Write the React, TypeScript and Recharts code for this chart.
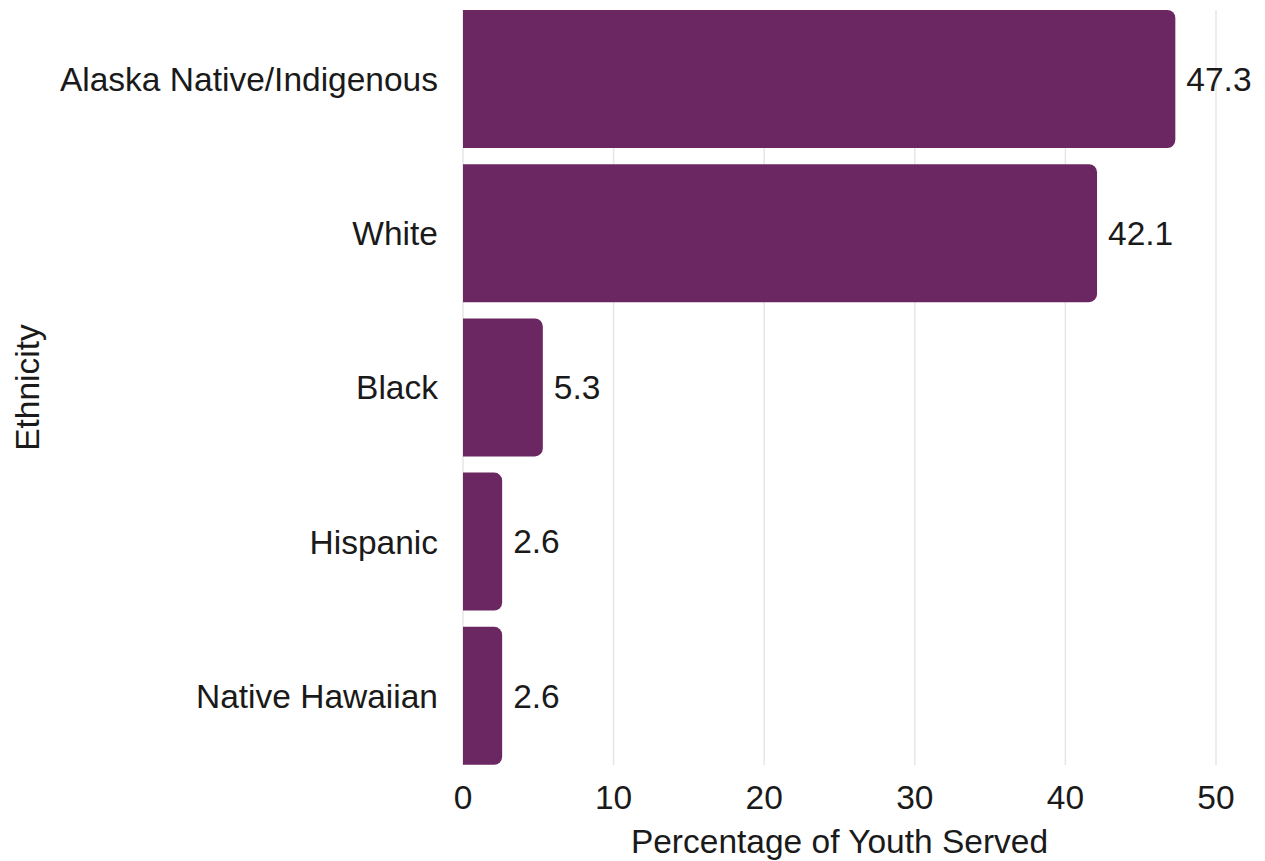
import { BarChart, Bar, XAxis, YAxis, CartesianGrid, LabelList } from "recharts";

const categories = ["Alaska Native/Indigenous", "White", "Black", "Hispanic", "Native Hawaiian"];
const percentages = [47.3, 42.1, 5.3, 2.6, 2.6];
const xTicks = [0, 10, 20, 30, 40, 50];

const data = categories.map((name, i) => ({ name, value: percentages[i] }));

const FONT = "'Liberation Sans', Arial, sans-serif";
const TEXT = "#1a1a1a";
const BAR = "#6b2761";
const SIZE = 33.5;

const App = () => {
  return (
    <div style={{ position: "absolute", left: 0, top: 0, width: 1265, height: 861, background: "#fff" }}>
      <BarChart
        width={1265}
        height={861}
        data={data}
        layout="vertical"
        margin={{ top: 10, right: 49, bottom: 0, left: 0 }}
        style={{ fontFamily: FONT }}
      >
        <CartesianGrid horizontal={false} stroke="#e6e6e6" strokeWidth={1.5} />
        <XAxis
          type="number"
          domain={[0, 50]}
          ticks={xTicks}
          axisLine={false}
          tickLine={false}
          tickSize={0}
          tickMargin={20}
          height={96}
          tick={{ fontSize: SIZE, fill: TEXT }}
          label={{
            value: "Percentage of Youth Served",
            position: "insideBottom",
            offset: 8,
            style: { fontSize: SIZE, fill: TEXT },
          }}
        />
        <YAxis
          type="category"
          dataKey="name"
          width={463}
          axisLine={false}
          tickLine={false}
          tickSize={0}
          tickMargin={25}
          padding={{ top: -8, bottom: -8 }}
          tick={{ fontSize: SIZE, fill: TEXT }}
          label={{
            value: "Ethnicity",
            angle: -90,
            position: "insideLeft",
            offset: 27,
            style: { fontSize: SIZE, fill: TEXT, textAnchor: "middle" },
          }}
        />
        <Bar dataKey="value" fill={BAR} barSize={138} radius={[0, 8, 8, 0]} isAnimationActive={false}>
          <LabelList dataKey="value" position="right" offset={11} style={{ fontSize: SIZE, fill: TEXT }} />
        </Bar>
      </BarChart>
    </div>
  );
};

export default App;
